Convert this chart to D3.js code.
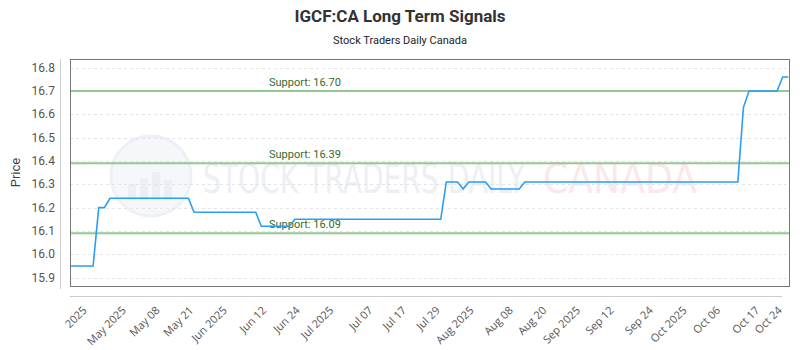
<!DOCTYPE html>
<html>
<head>
<meta charset="utf-8">
<script src="https://cdn.jsdelivr.net/npm/d3@7"></script>
<style>
  html, body { margin: 0; padding: 0; background: #fff; }
  #chart { width: 800px; height: 350px; }
</style>
</head>
<body>
<div id="chart"></div>
<script>
// line vertices (day index, price)
const pointDay   = [0, 4, 5, 6, 7, 21, 22, 33, 34, 39, 40, 66, 67, 69, 70, 71, 74, 75, 80, 81, 119, 120, 121, 126, 127, 128];
const pointPrice = [15.95, 15.95, 16.20, 16.20, 16.24, 16.24, 16.18, 16.18, 16.12, 16.12, 16.15, 16.15, 16.31, 16.31, 16.28, 16.31, 16.31, 16.28, 16.28, 16.31, 16.31, 16.63, 16.70, 16.70, 16.76, 16.76];

const supports = [16.70, 16.39, 16.09];

const tickDay   = [3, 10, 16, 22, 28, 35, 41, 47, 54, 60, 66, 72, 79, 85, 91, 97, 104, 110, 116, 123, 127];
const tickLabel = ['2025', 'May 2025', 'May 08', 'May 21', 'Jun 2025', 'Jun 12', 'Jun 24', 'Jul 2025', 'Jul 07', 'Jul 17',
                   'Jul 29', 'Aug 2025', 'Aug 08', 'Aug 20', 'Sep 2025', 'Sep 12', 'Sep 24', 'Oct 2025', 'Oct 06', 'Oct 17', 'Oct 24'];
const yTicks = [15.9, 16.0, 16.1, 16.2, 16.3, 16.4, 16.5, 16.6, 16.7, 16.8];

const W = 800, H = 350;
const P = { left: 70, right: 790, top: 59, bottom: 286 };
const font = 'Roboto, sans-serif';

const svg = d3.select('#chart').append('svg')
  .attr('width', W).attr('height', H)
  .attr('viewBox', `0 0 ${W} ${H}`)
  .style('display', 'block');

const x = d3.scaleLinear().domain([0, 128]).range([70.7, 788.3]);
const y = d3.scaleLinear().domain([15.864, 16.837]).range([P.bottom, P.top]);

// title
svg.append('text')
  .attr('x', 400).attr('y', 22).attr('text-anchor', 'middle')
  .attr('fill', '#333').style('font-family', font).style('font-size', '17px').style('font-weight', 700)
  .text('IGCF:CA Long Term Signals');
svg.append('text')
  .attr('x', 400).attr('y', 44).attr('text-anchor', 'middle')
  .attr('fill', '#222').style('font-family', font).style('font-size', '11px')
  .text('Stock Traders Daily Canada');

// watermark
const wm = svg.append('g').attr('opacity', 0.55);
wm.append('circle').attr('cx', 151).attr('cy', 176).attr('r', 40)
  .attr('fill', '#eef2f7').attr('stroke', '#dfe6ef').attr('stroke-width', 3);
[[128, 184, 8, 16], [140, 178, 8, 22], [152, 172, 8, 28], [164, 180, 8, 20]].forEach(b => {
  wm.append('rect').attr('x', b[0]).attr('y', b[1]).attr('width', b[2]).attr('height', b[3]).attr('fill', '#dbe3ee');
});
wm.append('text').attr('x', 203).attr('y', 193)
  .attr('fill', '#dde4ee').style('font-family', 'DejaVu Sans Condensed, sans-serif').style('font-size', '41px')
  .attr('textLength', 322).attr('lengthAdjust', 'spacingAndGlyphs')
  .text('STOCK TRADERS DAILY');
wm.append('text').attr('x', 543).attr('y', 193)
  .attr('fill', '#fbd6d6').style('font-family', 'DejaVu Sans Condensed, sans-serif').style('font-size', '41px')
  .attr('textLength', 154).attr('lengthAdjust', 'spacingAndGlyphs')
  .text('CANADA');

// grid
svg.append('g').selectAll('line').data(yTicks).join('line')
  .attr('x1', P.left).attr('x2', P.right - 4)
  .attr('y1', d => Math.round(y(d)) + 0.5).attr('y2', d => Math.round(y(d)) + 0.5)
  .attr('stroke', '#e4e4e4').attr('stroke-dasharray', '3,3');

// support lines
supports.forEach(s => {
  svg.append('line')
    .attr('x1', P.left).attr('x2', P.right)
    .attr('y1', y(s)).attr('y2', y(s))
    .attr('stroke', '#93c793').attr('stroke-width', 2);
  svg.append('text')
    .attr('x', 269).attr('y', y(s) - 5)
    .attr('fill', '#2f6b2f').style('font-family', font).style('font-size', '11px')
    .text('Support: ' + s.toFixed(2));
});

// price line
const line = d3.line().x((d, i) => x(pointDay[i])).y(d => y(d));
svg.append('path').datum(pointPrice)
  .attr('d', line).attr('fill', 'none')
  .attr('stroke', '#2a9df4').attr('stroke-width', 1.6);

// frame
svg.append('rect')
  .attr('x', P.left + 0.5).attr('y', P.top + 0.5)
  .attr('width', P.right - P.left - 1).attr('height', P.bottom - P.top)
  .attr('fill', 'none').attr('stroke', '#777').attr('stroke-width', 1);

// y axis
svg.append('line').attr('x1', 60.5).attr('x2', 60.5).attr('y1', P.top).attr('y2', 289)
  .attr('stroke', '#ccc');
svg.append('g').selectAll('text').data(yTicks).join('text')
  .attr('x', 55).attr('y', d => y(d) + 4).attr('text-anchor', 'end')
  .attr('fill', '#555').style('font-family', font).style('font-size', '12px')
  .text(d => d.toFixed(1));
svg.append('text')
  .attr('transform', `translate(20,${(P.top + P.bottom) / 2}) rotate(-90)`)
  .attr('text-anchor', 'middle')
  .attr('fill', '#444').style('font-family', font).style('font-size', '13px')
  .text('Price');

// x axis
svg.append('line').attr('x1', P.left).attr('x2', 782).attr('y1', 296.5).attr('y2', 296.5)
  .attr('stroke', '#ccc');
svg.append('g').selectAll('text').data(tickDay).join('text')
  .attr('transform', d => `translate(${x(d)},311) rotate(-45)`)
  .attr('text-anchor', 'end')
  .attr('fill', '#555').style('font-family', 'Open Sans, sans-serif').style('font-size', '11px')
  .text((d, i) => tickLabel[i]);
</script>
</body>
</html>
